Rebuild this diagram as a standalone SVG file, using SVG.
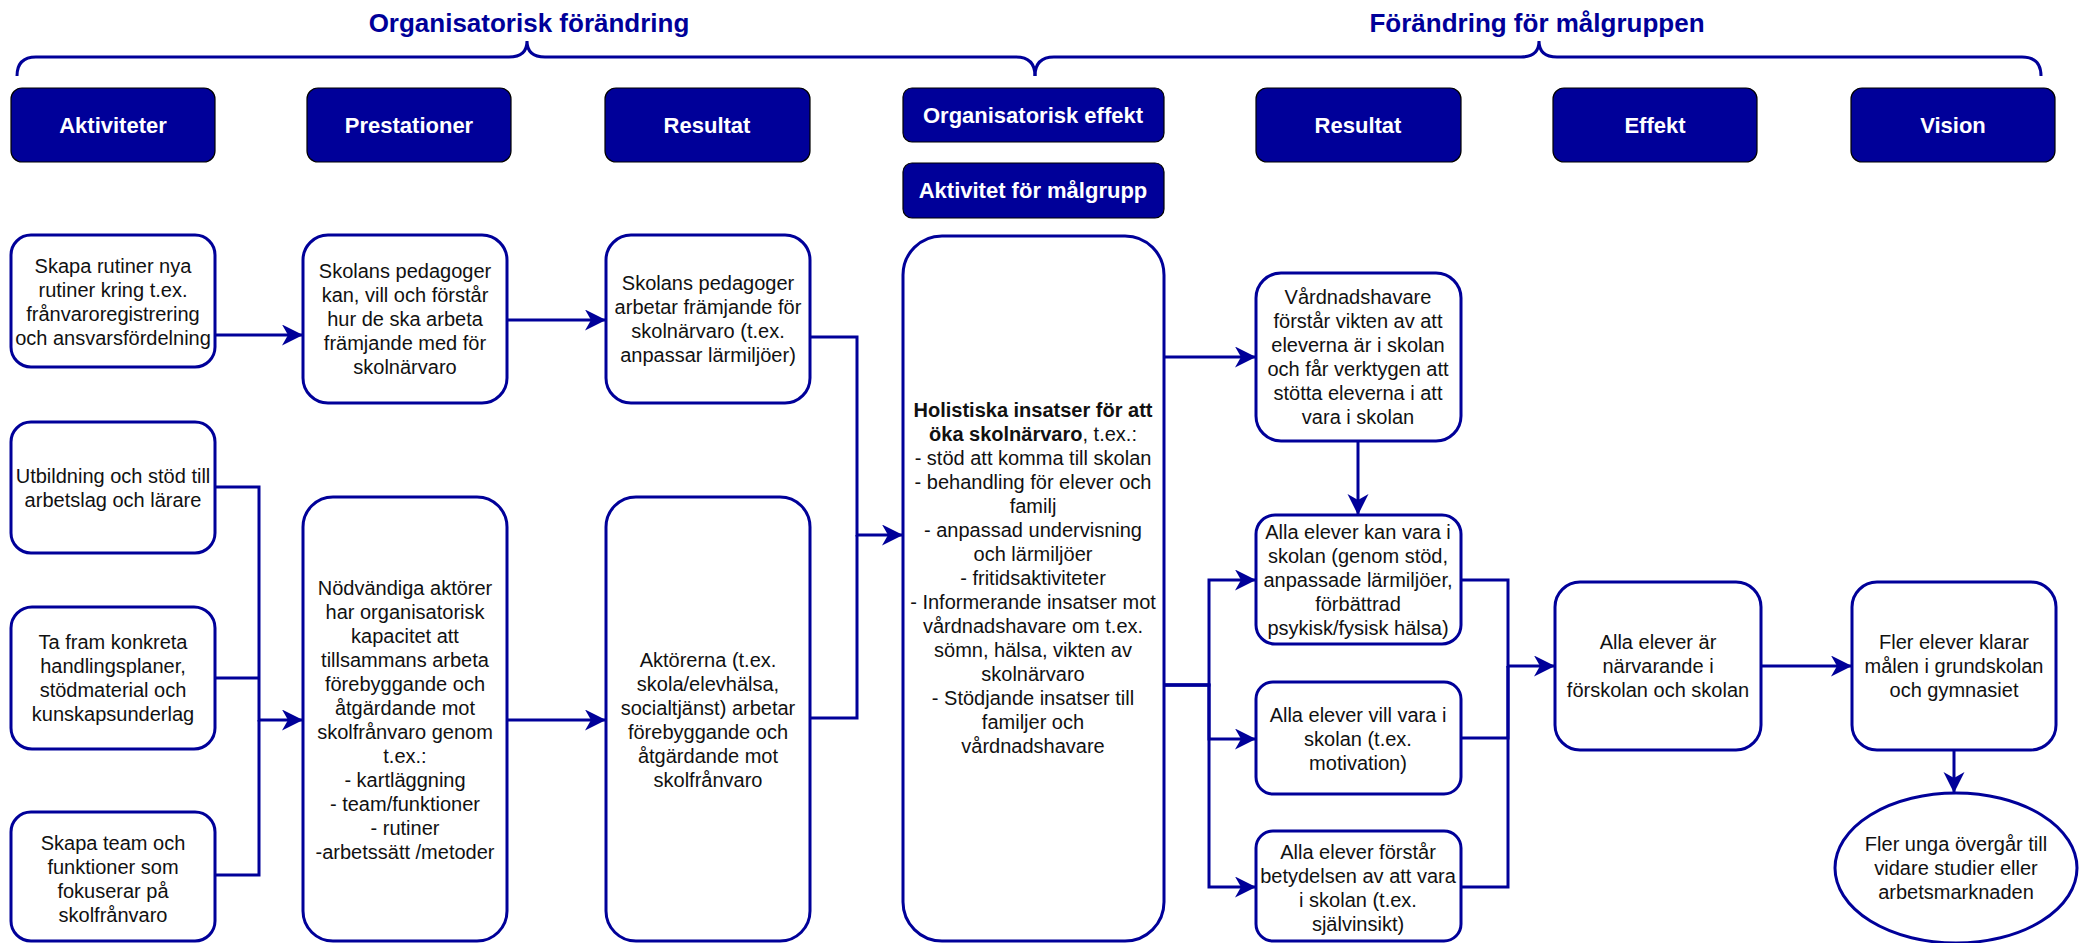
<svg xmlns="http://www.w3.org/2000/svg" width="2083" height="943" viewBox="0 0 2083 943">
<defs>
<style>
.hdr{fill:#000099;stroke:#000;stroke-width:1.2}
.ht{font-family:"Liberation Sans",Arial,sans-serif;font-size:22px;font-weight:bold;fill:#fff;text-anchor:middle}
.nd{fill:#fff;stroke:#000099;stroke-width:3}
.t{font-family:"Liberation Sans",Arial,sans-serif;font-size:20px;fill:#111;text-anchor:middle}
.ttl{font-family:"Liberation Sans",Arial,sans-serif;font-size:26px;font-weight:bold;fill:#000099;text-anchor:middle}
.br{fill:none;stroke:#000099;stroke-width:3}
.c{fill:none;stroke:#000099;stroke-width:3}
.a{marker-end:url(#arr)}
</style>
<marker id="arr" markerUnits="userSpaceOnUse" markerWidth="22" markerHeight="22" refX="21" refY="10.5" orient="auto">
<path d="M0,0 L21,10.5 L0,21 L6,10.5 Z" fill="#000099"/>
</marker>
</defs>
<rect width="2083" height="943" fill="#fff"/>

<g id="titles">
<text class="ttl" x="529" y="32">Organisatorisk förändring</text>
<text class="ttl" x="1537" y="32">Förändring för målgruppen</text>
<path class="br" d="M17,76 Q17,57 36,57 L509,57 Q527,57 527,41 Q527,57 545,57 L1016,57 Q1035,57 1035,76"/>
<path class="br" d="M1035,76 Q1035,57 1054,57 L1521,57 Q1539,57 1539,41 Q1539,57 1557,57 L2022,57 Q2041,57 2041,76"/>
</g>

<g id="h-aktiviteter"><rect class="hdr" x="11" y="88" width="204" height="74" rx="11"/><text class="ht" x="113" y="133">Aktiviteter</text></g>
<g id="h-prestationer"><rect class="hdr" x="307" y="88" width="204" height="74" rx="11"/><text class="ht" x="409" y="133">Prestationer</text></g>
<g id="h-resultat1"><rect class="hdr" x="605" y="88" width="205" height="74" rx="11"/><text class="ht" x="707" y="133">Resultat</text></g>
<g id="h-orgeffekt"><rect class="hdr" x="903" y="88" width="261" height="54" rx="9"/><text class="ht" x="1033" y="123">Organisatorisk effekt</text></g>
<g id="h-aktmalgrupp"><rect class="hdr" x="903" y="163" width="261" height="55" rx="9"/><text class="ht" x="1033" y="198">Aktivitet för målgrupp</text></g>
<g id="h-resultat2"><rect class="hdr" x="1256" y="88" width="205" height="74" rx="11"/><text class="ht" x="1358" y="133">Resultat</text></g>
<g id="h-effekt"><rect class="hdr" x="1553" y="88" width="204" height="74" rx="11"/><text class="ht" x="1655" y="133">Effekt</text></g>
<g id="h-vision"><rect class="hdr" x="1851" y="88" width="204" height="74" rx="11"/><text class="ht" x="1953" y="133">Vision</text></g>

<g id="connectors">
<path class="c a" d="M215,335 L303,335"/>
<path class="c a" d="M507,320 L606,320"/>
<path class="c a" d="M810,337 L857,337 L857,535 L903,535"/>
<path class="c" d="M810,718 L857,718 L857,535"/>
<path class="c a" d="M215,487 L259,487 L259,720 L303,720"/>
<path class="c" d="M215,678 L259,678"/>
<path class="c" d="M215,875 L259,875 L259,720"/>
<path class="c a" d="M507,720 L606,720"/>
<path class="c a" d="M1164,357 L1256,357"/>
<path class="c a" d="M1358,441 L1358,515"/>
<path class="c a" d="M1164,685 L1209,685 L1209,580 L1256,580"/>
<path class="c a" d="M1164,685 L1209,685 L1209,739 L1256,739"/>
<path class="c a" d="M1164,685 L1209,685 L1209,887 L1256,887"/>
<path class="c a" d="M1461,580 L1508,580 L1508,666 L1555,666"/>
<path class="c" d="M1461,738 L1508,738 L1508,666"/>
<path class="c" d="M1461,887 L1508,887 L1508,666"/>
<path class="c a" d="M1761,666 L1852,666"/>
<path class="c a" d="M1954,750 L1954,793"/>
</g>

<g id="n1"><rect class="nd" x="11" y="235" width="204" height="132" rx="20"/>
<text class="t"><tspan x="113" y="273">Skapa rutiner nya</tspan><tspan x="113" y="297">rutiner kring t.ex.</tspan><tspan x="113" y="321">frånvaroregistrering</tspan><tspan x="113" y="345">och ansvarsfördelning</tspan></text></g>

<g id="n2"><rect class="nd" x="303" y="235" width="204" height="168" rx="25"/>
<text class="t"><tspan x="405" y="278">Skolans pedagoger</tspan><tspan x="405" y="302">kan, vill och förstår</tspan><tspan x="405" y="326">hur de ska arbeta</tspan><tspan x="405" y="350">främjande med för</tspan><tspan x="405" y="374">skolnärvaro</tspan></text></g>

<g id="n3"><rect class="nd" x="606" y="235" width="204" height="168" rx="25"/>
<text class="t"><tspan x="708" y="290">Skolans pedagoger</tspan><tspan x="708" y="314">arbetar främjande för</tspan><tspan x="708" y="338">skolnärvaro (t.ex.</tspan><tspan x="708" y="362">anpassar lärmiljöer)</tspan></text></g>

<g id="n4"><rect class="nd" x="11" y="422" width="204" height="131" rx="20"/>
<text class="t"><tspan x="113" y="483">Utbildning och stöd till</tspan><tspan x="113" y="507">arbetslag och lärare</tspan></text></g>

<g id="n5"><rect class="nd" x="11" y="607" width="204" height="142" rx="21"/>
<text class="t"><tspan x="113" y="649">Ta fram konkreta</tspan><tspan x="113" y="673">handlingsplaner,</tspan><tspan x="113" y="697">stödmaterial och</tspan><tspan x="113" y="721">kunskapsunderlag</tspan></text></g>

<g id="n6"><rect class="nd" x="11" y="812" width="204" height="129" rx="20"/>
<text class="t"><tspan x="113" y="850">Skapa team och</tspan><tspan x="113" y="874">funktioner som</tspan><tspan x="113" y="898">fokuserar på</tspan><tspan x="113" y="922">skolfrånvaro</tspan></text></g>

<g id="n7"><rect class="nd" x="303" y="497" width="204" height="444" rx="30"/>
<text class="t"><tspan x="405" y="595">Nödvändiga aktörer</tspan><tspan x="405" y="619">har organisatorisk</tspan><tspan x="405" y="643">kapacitet att</tspan><tspan x="405" y="667">tillsammans arbeta</tspan><tspan x="405" y="691">förebyggande och</tspan><tspan x="405" y="715">åtgärdande mot</tspan><tspan x="405" y="739">skolfrånvaro genom</tspan><tspan x="405" y="763">t.ex.:</tspan><tspan x="405" y="787">- kartläggning</tspan><tspan x="405" y="811">- team/funktioner</tspan><tspan x="405" y="835">- rutiner</tspan><tspan x="405" y="859">-arbetssätt /metoder</tspan></text></g>

<g id="n8"><rect class="nd" x="606" y="497" width="204" height="444" rx="30"/>
<text class="t"><tspan x="708" y="667">Aktörerna (t.ex.</tspan><tspan x="708" y="691">skola/elevhälsa,</tspan><tspan x="708" y="715">socialtjänst) arbetar</tspan><tspan x="708" y="739">förebyggande och</tspan><tspan x="708" y="763">åtgärdande mot</tspan><tspan x="708" y="787">skolfrånvaro</tspan></text></g>

<g id="n9"><rect class="nd" x="903" y="236" width="261" height="705" rx="39"/>
<text class="t"><tspan x="1033" y="417" font-weight="bold">Holistiska insatser för att</tspan><tspan x="1033" y="441"><tspan font-weight="bold">öka skolnärvaro</tspan>, t.ex.:</tspan><tspan x="1033" y="465">- stöd att komma till skolan</tspan><tspan x="1033" y="489">- behandling för elever och</tspan><tspan x="1033" y="513">familj</tspan><tspan x="1033" y="537">- anpassad undervisning</tspan><tspan x="1033" y="561">och lärmiljöer</tspan><tspan x="1033" y="585">- fritidsaktiviteter</tspan><tspan x="1033" y="609">- Informerande insatser mot</tspan><tspan x="1033" y="633">vårdnadshavare om t.ex.</tspan><tspan x="1033" y="657">sömn, hälsa, vikten av</tspan><tspan x="1033" y="681">skolnärvaro</tspan><tspan x="1033" y="705">- Stödjande insatser till</tspan><tspan x="1033" y="729">familjer och</tspan><tspan x="1033" y="753">vårdnadshavare</tspan></text></g>

<g id="n10"><rect class="nd" x="1256" y="273" width="205" height="168" rx="25"/>
<text class="t"><tspan x="1358" y="304">Vårdnadshavare</tspan><tspan x="1358" y="328">förstår vikten av att</tspan><tspan x="1358" y="352">eleverna är i skolan</tspan><tspan x="1358" y="376">och får verktygen att</tspan><tspan x="1358" y="400">stötta eleverna i att</tspan><tspan x="1358" y="424">vara i skolan</tspan></text></g>

<g id="n11"><rect class="nd" x="1256" y="515" width="205" height="129" rx="19"/>
<text class="t"><tspan x="1358" y="539">Alla elever kan vara i</tspan><tspan x="1358" y="563">skolan (genom stöd,</tspan><tspan x="1358" y="587">anpassade lärmiljöer,</tspan><tspan x="1358" y="611">förbättrad</tspan><tspan x="1358" y="635">psykisk/fysisk hälsa)</tspan></text></g>

<g id="n12"><rect class="nd" x="1256" y="682" width="205" height="112" rx="17"/>
<text class="t"><tspan x="1358" y="722">Alla elever vill vara i</tspan><tspan x="1358" y="746">skolan (t.ex.</tspan><tspan x="1358" y="770">motivation)</tspan></text></g>

<g id="n13"><rect class="nd" x="1256" y="831" width="205" height="110" rx="17"/>
<text class="t"><tspan x="1358" y="859">Alla elever förstår</tspan><tspan x="1358" y="883">betydelsen av att vara</tspan><tspan x="1358" y="907">i skolan (t.ex.</tspan><tspan x="1358" y="931">självinsikt)</tspan></text></g>

<g id="n14"><rect class="nd" x="1555" y="582" width="206" height="168" rx="25"/>
<text class="t"><tspan x="1658" y="649">Alla elever är</tspan><tspan x="1658" y="673">närvarande i</tspan><tspan x="1658" y="697">förskolan och skolan</tspan></text></g>

<g id="n15"><rect class="nd" x="1852" y="582" width="204" height="168" rx="25"/>
<text class="t"><tspan x="1954" y="649">Fler elever klarar</tspan><tspan x="1954" y="673">målen i grundskolan</tspan><tspan x="1954" y="697">och gymnasiet</tspan></text></g>

<g id="n16"><ellipse class="nd" cx="1956" cy="868" rx="121" ry="75"/>
<text class="t"><tspan x="1956" y="851">Fler unga övergår till</tspan><tspan x="1956" y="875">vidare studier eller</tspan><tspan x="1956" y="899">arbetsmarknaden</tspan></text></g>
</svg>
